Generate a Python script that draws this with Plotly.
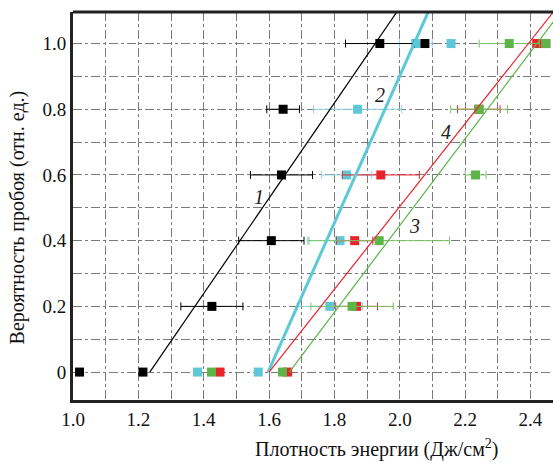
import plotly.graph_objects as go

prob = [0, 0, 0.2, 0.4, 0.6, 0.8, 1.0, 1.0]

energy_black = [1.02, 1.214, 1.425, 1.607, 1.638, 1.643, 1.939, 2.077]
err_black = [0, 0, 0.095, 0.10, 0.095, 0.05, 0.105, 0]
energy_cyan = [1.381, 1.567, 1.786, 1.817, 1.837, 1.871, 2.049, 2.157]
err_cyan = [0, 0, 0.10, 0.10, 0.077, 0.135, 0.05, 0]
energy_red = [1.45, 1.657, 1.868, 1.862, 1.942, 2.242, 2.419, 2.447]
err_red = [0, 0, 0.064, 0.056, 0.118, 0.065, 0, 0]
energy_green = [1.424, 1.641, 1.854, 1.937, 2.232, 2.243, 2.335, 2.447]
err_green = [0, 0, 0.126, 0.215, 0.032, 0.087, 0.092, 0]

fit1_x = [1.235, 2.0]
fit1_y = [0, 1.109]
fit2_x = [1.597, 2.1]
fit2_y = [0, 1.125]
fit4_x = [1.6, 2.5]
fit4_y = [0, 1.134]
fit3_x = [1.662, 2.5]
fit3_y = [0, 1.106]

curve_labels = ["1", "2", "3", "4"]
label_x = [1.569, 1.939, 2.044, 2.143]
label_y = [0.533, 0.843, 0.445, 0.731]

x_ticks = [1.0, 1.2, 1.4, 1.6, 1.8, 2.0, 2.2, 2.4]
x_ticktext = ["1.0", "1.2", "1.4", "1.6", "1.8", "2.0", "2.2", "2.4"]
y_ticks = [0, 0.2, 0.4, 0.6, 0.8, 1.0]
y_ticktext = ["0", "0.2", "0.4", "0.6", "0.8", "1.0"]

BLACK = "#000000"
CYAN = "#5ec8d8"
RED = "#e8232b"
GREEN = "#5db548"
SERIF = "Liberation Serif, Times New Roman, serif"

fig = go.Figure()

def pts(xv, err, color, errcolor):
    fig.add_trace(go.Scatter(
        x=xv, y=prob, mode="markers",
        marker=dict(symbol="square", size=9, color=color, line=dict(width=0)),
        error_x=dict(type="data", array=err, visible=True, color=errcolor,
                     thickness=1, width=4),
        showlegend=False, cliponaxis=False))

pts(energy_cyan, err_cyan, CYAN, "#8fd6e2")
pts(energy_red, err_red, RED, RED)
pts(energy_green, err_green, GREEN, "#7cc46a")
pts(energy_black, err_black, BLACK, BLACK)

def fit(xv, yv, color, w):
    fig.add_trace(go.Scatter(x=xv, y=yv, mode="lines",
                             line=dict(color=color, width=w), showlegend=False))

fit(fit1_x, fit1_y, BLACK, 1.2)
fit(fit2_x, fit2_y, CYAN, 3)
fit(fit4_x, fit4_y, RED, 1.2)
fit(fit3_x, fit3_y, GREEN, 1.2)

for t, lx, ly in zip(curve_labels, label_x, label_y):
    fig.add_annotation(x=lx, y=ly, text="<i>%s</i>" % t, showarrow=False,
                       font=dict(family=SERIF, size=20, color="#222"))

fig.add_shape(type="line", xref="paper", yref="paper", x0=0, x1=1, y0=1, y1=1,
              line=dict(color="#222", width=3))

grid = dict(showgrid=True, gridcolor="#7a7a7a", gridwidth=1, griddash="dashdot",
            minor=dict(dtick=0.1, showgrid=True, gridcolor="#7a7a7a", gridwidth=1,
                       griddash="dashdot"))

fig.update_xaxes(range=[1.0, 2.469], tickvals=x_ticks, ticktext=x_ticktext,
                 showline=True, linecolor="#222", linewidth=3, zeroline=False,
                 ticks="", tickfont=dict(family=SERIF, size=19, color="#111"),
                 **grid)
fig.update_xaxes(minor=dict(tick0=1.0))
fig.update_yaxes(range=[-0.085, 1.096], tickvals=y_ticks, ticktext=y_ticktext,
                 showline=True, linecolor="#222", linewidth=3, zeroline=False,
                 ticks="", tickfont=dict(family=SERIF, size=19, color="#111"),
                 **grid)
fig.update_yaxes(minor=dict(tick0=0))

fig.add_annotation(xref="paper", yref="paper", x=(377 - 73) / 480, y=-0.125,
                   text="Плотность энергии (Дж/см<sup>2</sup>)", showarrow=False,
                   yanchor="middle",
                   font=dict(family=SERIF, size=20, color="#111"))
fig.add_annotation(xref="paper", yref="paper", x=-0.115, y=0.47, textangle=-90,
                   text="Вероятность пробоя (отн. ед.)", showarrow=False,
                   xanchor="center",
                   font=dict(family=SERIF, size=20, color="#111"))

fig.update_layout(width=553, height=463, margin=dict(l=73, r=0, t=12, b=63),
                  plot_bgcolor="white", paper_bgcolor="white")

fig.write_html("out.html")
